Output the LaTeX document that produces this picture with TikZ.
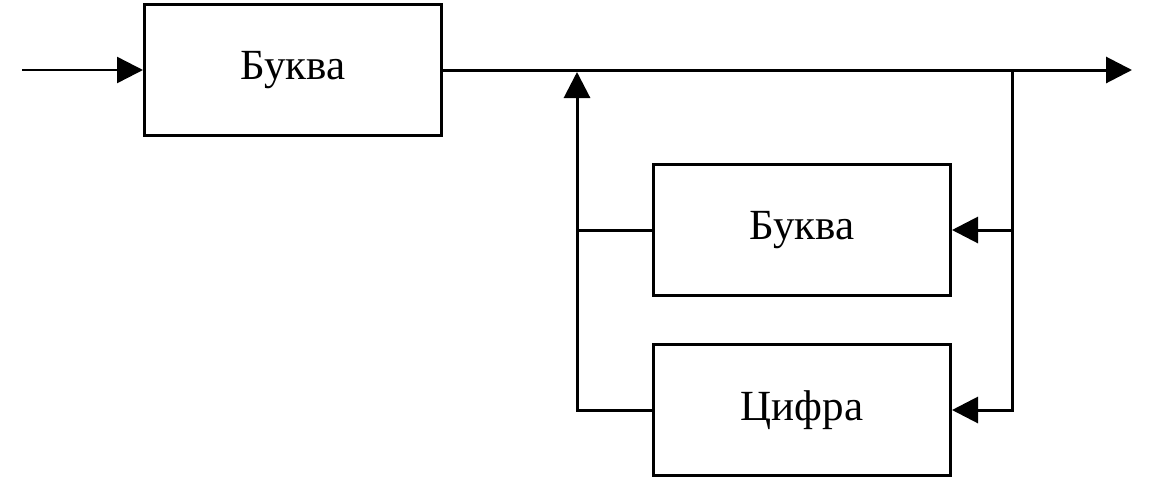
\documentclass[tikz,border=0pt]{standalone}
\usepackage{fontspec}
\setmainfont{Liberation Serif}
\usetikzlibrary{arrows.meta}

\tikzset{
  unit/.style={draw, line width=3pt, minimum width=297pt, minimum height=131pt,
    font=\fontsize{43}{50}\selectfont},
  flow/.style={line width=3pt, -{Triangle[length=26pt,width=26pt]}},
  wire/.style={line width=3pt}
}

\begin{document}
\begin{tikzpicture}[x=1pt,y=-1pt]
  \useasboundingbox (0,0) rectangle (1164,480);
  \node [unit] (first) at (293,70) {Буква};
  \node [unit] (letter) at (802,230) {Буква};
  \node [unit] (digit) at (802,410) {Цифра};
  \coordinate (start) at (22,70);
  \coordinate (end) at (1132,70);
  \coordinate (split) at (1012,70);
  \coordinate (join) at (577,72);
  \draw [flow, line width=2.5pt] (start) -- (first.west);
  \draw [flow] (first.east) -- (end);
  \draw [flow] (split) |- (letter.east);
  \draw [flow] (split) |- (digit.east);
  \draw [flow] (digit.west) -| (join);
  \draw [wire] (letter.west) -- (letter.west -| join);
\end{tikzpicture}
\end{document}
